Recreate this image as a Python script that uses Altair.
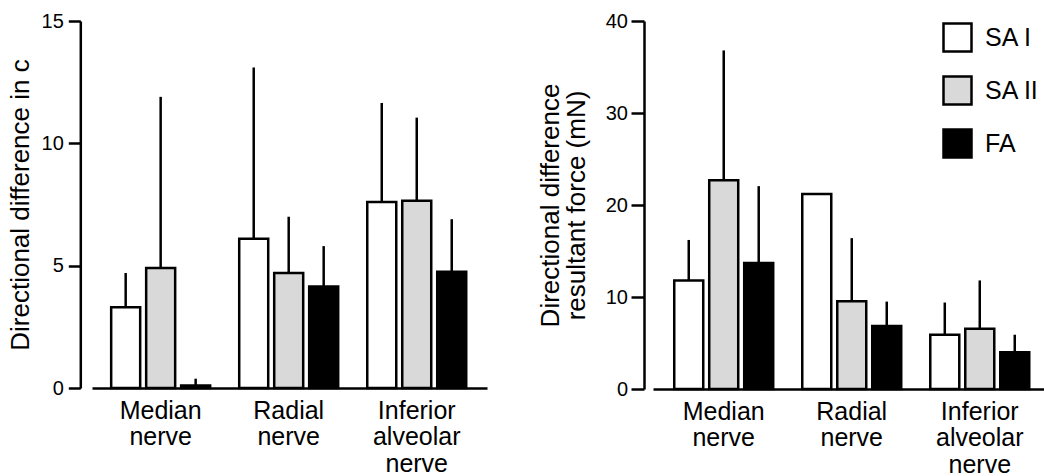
import altair as alt
import pandas as pd

# Nerve groups and afferent types
nerves = ["Median nerve", "Radial nerve", "Inferior alveolar nerve"]
types = ["SA I", "SA II", "FA"]

# Left panel: directional difference in c (mean and SD, per nerve)
c_mean = {
    "SA I": [3.3, 6.1, 7.6],
    "SA II": [4.9, 4.7, 7.65],
    "FA": [0.1, 4.15, 4.75],
}
c_sd = {
    "SA I": [1.4, 7.0, 4.05],
    "SA II": [7.0, 2.3, 3.4],
    "FA": [0.28, 1.65, 2.15],
}

# Right panel: directional difference in resultant force, mN
f_mean = {
    "SA I": [11.8, 21.2, 5.9],
    "SA II": [22.7, 9.55, 6.55],
    "FA": [13.7, 6.85, 4.0],
}
f_sd = {
    "SA I": [4.4, None, 3.5],
    "SA II": [14.1, 6.85, 5.25],
    "FA": [8.35, 2.65, 1.9],
}

fills = ["white", "#d9d9d9", "black"]
FONT = "Liberation Sans"


def table(means, sds):
    rows = []
    for t in types:
        for i, n in enumerate(nerves):
            m = means[t][i]
            s = sds[t][i]
            rows.append({
                "nerve": n,
                "type": t,
                "mean": m,
                "upper": None if s is None else m + s,
            })
    return pd.DataFrame(rows)


def panel(df, ymax, ticks, title, width, height, align, pad_outer,
          y_offset, tick_size, label_pad, title_pad, legend):
    x = alt.X(
        "nerve:N",
        sort=nerves,
        scale=alt.Scale(paddingInner=0.227, paddingOuter=pad_outer, align=align),
        axis=alt.Axis(
            title=None,
            labelAngle=0,
            ticks=False,
            domainWidth=2.5,
            domainColor="black",
            labelExpr="split(datum.label, ' ')",
            labelFont=FONT,
            labelFontSize=25,
            labelLineHeight=26.5,
            labelPadding=10,
            labelColor="black",
            labelBaseline="top",
        ),
    )
    xoff = alt.XOffset(
        "type:N", sort=types,
        scale=alt.Scale(paddingInner=0.171, paddingOuter=0),
    )
    y_axis = alt.Axis(
        values=ticks,
        title=title,
        offset=y_offset,
        grid=False,
        domainWidth=2.5,
        domainColor="black",
        tickWidth=2.5,
        tickSize=tick_size,
        tickColor="black",
        labelFont=FONT,
        labelFontSize=20,
        labelColor="black",
        labelPadding=label_pad,
        titleFont=FONT,
        titleFontSize=26,
        titleFontWeight="normal",
        titleColor="black",
        titlePadding=title_pad,
        titleLineHeight=26,
    )
    base = alt.Chart(df)
    bars = base.mark_bar(stroke="black", strokeWidth=2.5).encode(
        x=x,
        xOffset=xoff,
        y=alt.Y("mean:Q", scale=alt.Scale(domain=[0, ymax], nice=False),
                axis=y_axis),
        color=alt.Color("type:N", sort=types,
                        scale=alt.Scale(domain=types, range=fills),
                        legend=legend),
    )
    errs = base.transform_filter("datum.upper != null").mark_rule(
        color="black", strokeWidth=2.5
    ).encode(
        x=x,
        xOffset=xoff,
        y="mean:Q",
        y2="upper:Q",
    )
    return alt.layer(errs, bars).properties(width=width, height=height)


left = panel(
    table(c_mean, c_sd), 15, [0, 5, 10, 15],
    "Directional difference in c",
    395, 367, 0.48, 0.156, 11.7, 12, 5, 8, None,
)

right = panel(
    table(f_mean, f_sd), 40, [0, 10, 20, 30, 40],
    ["Directional difference", "resultant force (mN)"],
    391, 368, 0.59, 0.1406, 9, 13, 3.5, 16,
    alt.Legend(
        orient="none",
        legendX=289,
        legendY=1,
        title=None,
        symbolType="square",
        symbolSize=784,
        symbolStrokeColor="black",
        symbolStrokeWidth=2.5,
        symbolOpacity=1,
        labelFont=FONT,
        labelFontSize=25,
        labelColor="black",
        labelOffset=12,
        rowPadding=14,
    ),
)

chart = (
    alt.hconcat(left, right, spacing=50)
    .resolve_scale(y="independent", color="shared")
    .resolve_legend(color="independent")
    .properties(
        padding={"left": 7, "top": 11, "right": 0, "bottom": 0},
        background="white",
    )
    .configure_view(stroke=None)
)

chart.save("out.html", embed_options={"renderer": "svg", "actions": False})
